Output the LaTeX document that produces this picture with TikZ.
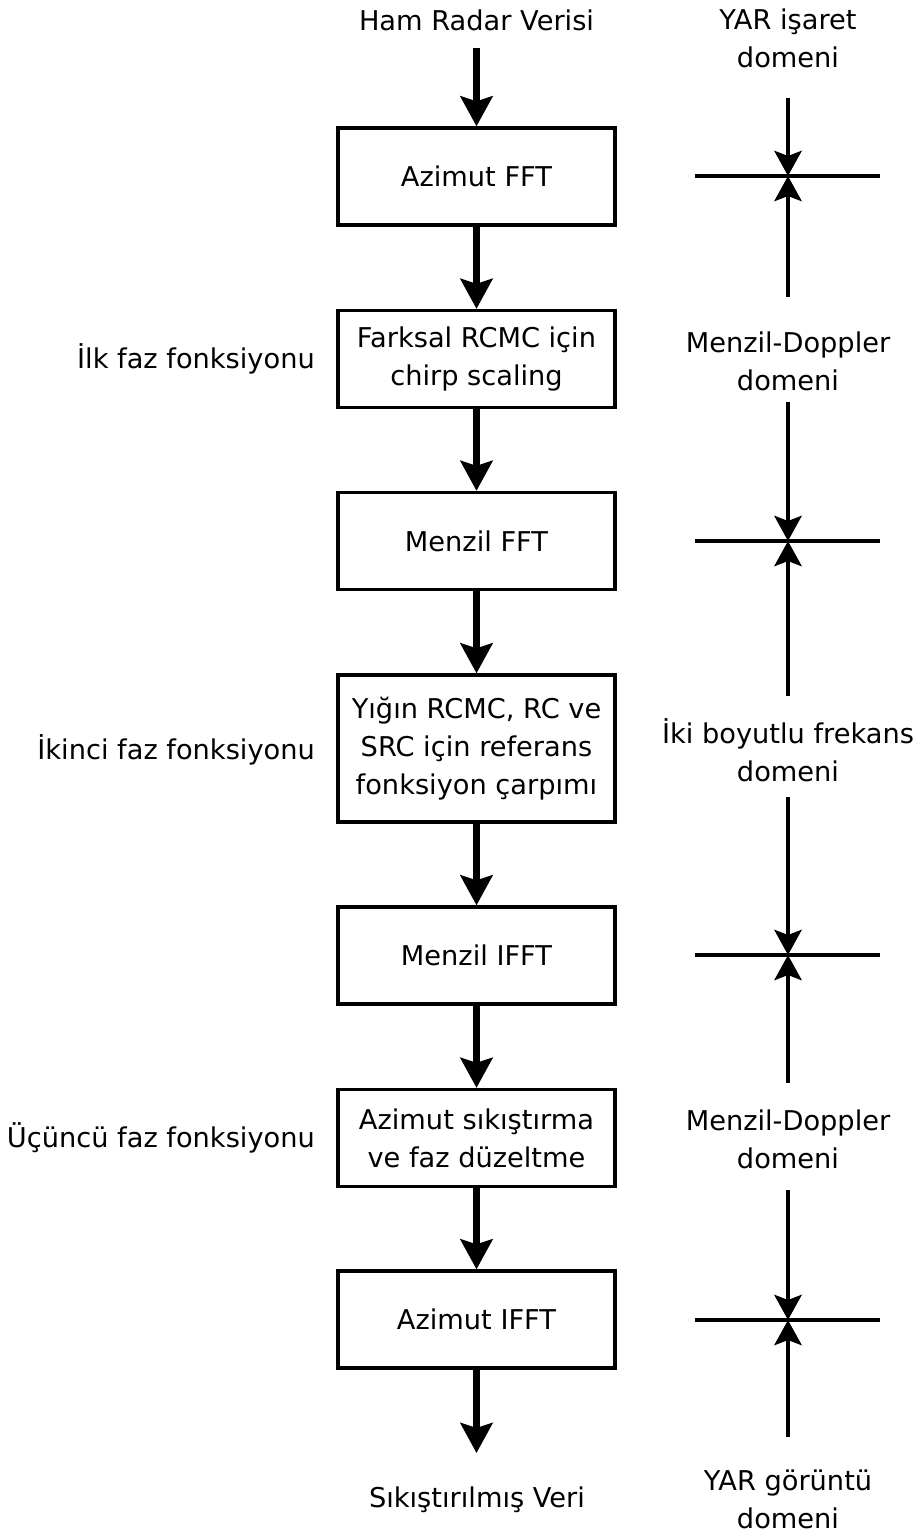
\documentclass[tikz,border=0pt]{standalone}
\usepackage{fontspec}
\setmainfont{DejaVu Sans}
\usepackage{tikz}
\usetikzlibrary{positioning,arrows.meta}

\begin{document}
\begin{tikzpicture}[x=0.02cm, y=-0.02cm,
	every node/.style={font=\fontsize{15.5}{21.6}\selectfont, align=center},
	procbox/.style={draw, line width=1.9pt, minimum width=5.54cm, minimum height=1.94cm, inner sep=0pt},
	flowarrow/.style={line width=4.2pt, -{Stealth[length=0.6cm, width=0.64cm, inset=0.1cm]}},
	domlabel/.style={inner sep=0pt},
	domarrow/.style={line width=2.8pt, -{Stealth[length=0.5cm, width=0.54cm, inset=0.1cm]}},
	crossline/.style={line width=2.8pt}]
	\useasboundingbox (0,0) rectangle (919,1535);

	\node (raw) at (476.5,20) {Ham Radar Verisi};
	\node[procbox] (azfft) at (476.5,176.5) {Azimut FFT};
	\node[procbox] (cs) at (476.5,359) {Farksal RCMC için\\chirp scaling};
	\node[procbox] (rgfft) at (476.5,541) {Menzil FFT};
	\node[procbox, minimum height=2.94cm] (refmul) at (476.5,748.5) {Yığın RCMC, RC ve\\SRC için referans\\fonksiyon çarpımı};
	\node[procbox] (rgifft) at (476.5,955.5) {Menzil IFFT};
	\node[procbox] (azcomp) at (476.5,1138) {Azimut sıkıştırma\\ve faz düzeltme};
	\node[procbox] (azifft) at (476.5,1319.5) {Azimut IFFT};
	\coordinate (outtip) at (476.5,1453);
	\node (out) at (477,1500) {Sıkıştırılmış Veri};

	\node[anchor=east] (phase1) at (321,359) {İlk faz fonksiyonu};
	\node[anchor=east] (phase2) at (321,750) {İkinci faz fonksiyonu};
	\node[anchor=east] (phase3) at (321,1138) {Üçüncü faz fonksiyonu};

	\draw[flowarrow, shorten <=0.22cm] (raw) -- (azfft);
	\draw[flowarrow] (azfft) -- (cs);
	\draw[flowarrow] (cs) -- (rgfft);
	\draw[flowarrow] (rgfft) -- (refmul);
	\draw[flowarrow] (refmul) -- (rgifft);
	\draw[flowarrow] (rgifft) -- (azcomp);
	\draw[flowarrow] (azcomp) -- (azifft);
	\draw[flowarrow] (azifft) -- (outtip);

	\node[domlabel] (sig) at (788,38) {YAR işaret\\domeni};
	\node[domlabel] (rd1) at (788,361) {Menzil-Doppler\\domeni};
	\node[domlabel] (twod) at (788,750) {İki boyutlu frekans\\domeni};
	\node[domlabel] (rd2) at (788,1139) {Menzil-Doppler\\domeni};
	\node[domlabel] (img) at (788,1499) {YAR görüntü\\domeni};

	\coordinate (x1) at (788,176);
	\coordinate (x2) at (788,541);
	\coordinate (x3) at (788,955);
	\coordinate (x4) at (788,1320);

	\draw[crossline] ([xshift=-1.86cm]x1) -- ([xshift=1.84cm]x1);
	\draw[crossline] ([xshift=-1.86cm]x2) -- ([xshift=1.84cm]x2);
	\draw[crossline] ([xshift=-1.86cm]x3) -- ([xshift=1.84cm]x3);
	\draw[crossline] ([xshift=-1.86cm]x4) -- ([xshift=1.84cm]x4);

	\draw[domarrow, shorten <=0.6cm] (sig) -- (x1);
	\draw[domarrow, shorten <=0.68cm] (rd1) -- (x1);
	\draw[domarrow, shorten <=0.22cm] (rd1) -- (x2);
	\draw[domarrow, shorten <=0.44cm] (twod) -- (x2);
	\draw[domarrow, shorten <=0.3cm] (twod) -- (x3);
	\draw[domarrow, shorten <=0.52cm] (rd2) -- (x3);
	\draw[domarrow, shorten <=0.42cm] (rd2) -- (x4);
	\draw[domarrow, shorten <=0.64cm] (img) -- (x4);
\end{tikzpicture}
\end{document}
